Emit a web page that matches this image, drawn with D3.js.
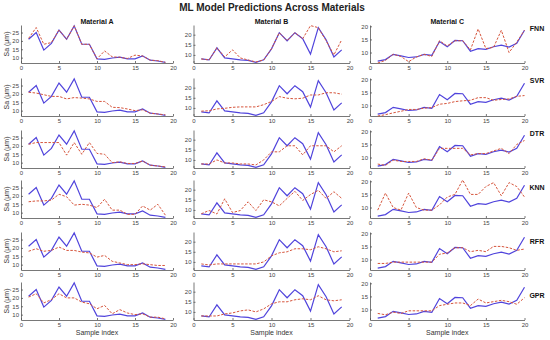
<!DOCTYPE html>
<html>
<head>
<meta charset="utf-8">
<script src="https://cdn.jsdelivr.net/npm/d3@7"></script>
<style>
  body { margin: 0; background: #fff; }
  svg { display: block; font-family: "Liberation Sans", Arial, sans-serif; }
</style>
</head>
<body>
<svg id="chart" width="550" height="340"></svg>
<script>
const materials = ['Material A', 'Material B', 'Material C']
const models = ['FNN', 'SVR', 'DTR', 'KNN', 'RFR', 'GPR']
const xTicks = [0, 5, 10, 15, 20]
const yTicksA = [10, 15, 20, 25]
const yTicksB = [10, 15, 20]
const yTicksC = [10, 15, 20]

// measured Sa values (true)
const trueA = [21, 25, 14.5, 18.5, 26.5, 21, 29, 18, 18, 9.3, 9, 9.8, 10.3, 9.3, 9.3, 11, 8.5, 8, 7.2]
const trueB = [8, 7.5, 13.5, 8.5, 8, 7.5, 7.3, 6.3, 7.6, 13, 21, 17, 21, 18, 10.4, 23.5, 17.5, 9, 12.5]
const trueC = [6.7, 7.3, 9.3, 8.7, 8.1, 8.3, 9.3, 8.9, 14.2, 12.2, 14.6, 14.5, 10.5, 11.5, 11.2, 12.2, 12.8, 12.1, 13.5, 18.5]

// model predictions
const fnnA = [21.5, 28, 18, 19, 26.5, 21, 29, 18, 18, 9.3, 14, 10.5, 10.2, 9.5, 11.5, 11, 8.5, 8.2, 7.2]
const svrA = [21, 20.5, 19.5, 18.5, 18.5, 17, 17.8, 17.5, 17, 15.5, 15.5, 12, 11.8, 11, 10, 10.5, 8.5, 8, 7.5]
const dtrA = [21, 22, 22, 22, 22, 14.5, 22, 15, 22, 15.5, 15, 10, 10.5, 9.5, 9.5, 11, 8.5, 8, 7.5]
const knnA = [16.5, 17, 17, 17.5, 21, 19.5, 14.5, 15, 14.5, 13, 18, 11.5, 11.5, 9, 9, 14, 11.5, 15, 8.5]
const rfrA = [18, 19.5, 18, 18.5, 20.5, 18.5, 18.5, 17.5, 17, 14.5, 15.5, 12, 11, 10, 10, 10.5, 10, 9.5, 9.5]
const gprA = [20.5, 22.5, 17, 19, 22.5, 20, 20, 17.5, 16.5, 13.5, 15.5, 10.5, 13, 11, 10, 10.5, 8.5, 8.5, 7.5]

const fnnB = [8, 7.5, 13.5, 9, 12.5, 8.5, 7.5, 6.5, 7.5, 13, 21, 17, 21, 18, 24.5, 23.5, 17, 10, 17.5]
const svrB = [8.4, 8.6, 9.5, 9.8, 10.3, 10.5, 10.5, 10.5, 11.6, 13.2, 15.6, 14.8, 14.5, 14.8, 16.4, 16.4, 17.5, 17.5, 16.8]
const dtrB = [8, 8, 10, 8.5, 8.5, 8, 8, 7.5, 10, 14, 14, 17, 17, 12.5, 17, 17, 17, 14, 17]
const knnB = [8.1, 9.7, 8, 15.5, 8.7, 9.7, 14, 9.7, 15, 14, 12, 15.7, 19.2, 14.7, 17.6, 19.7, 15.7, 19, 15.7]
const rfrB = [9, 8.5, 9, 9, 9, 9, 9, 9, 10, 13, 14.5, 15, 16.5, 16.5, 16, 17.5, 16.5, 15, 15.5]
const gprB = [8, 8, 8, 9, 9.5, 10.5, 11, 10, 11.5, 14, 15, 15, 16, 16.5, 16, 18, 16, 15.5, 16]

const fnnC = [6, 7, 9.3, 8.5, 6.5, 8.3, 9.3, 8.5, 14.5, 12.5, 14.5, 14.5, 11, 19, 11.5, 12, 18.5, 10, 14, 18.5]
const svrC = [6, 6.5, 7.2, 7.8, 8.5, 8.5, 9, 9.2, 10.5, 10.8, 11.5, 11.8, 12, 13, 13, 12, 12.3, 12.5, 13.5, 13.8]
const dtrC = [7.5, 7, 9, 8.5, 8.5, 8.5, 9.5, 9, 13.5, 13.5, 13.5, 13.5, 11, 11.5, 11.5, 12.5, 13.5, 11.5, 15, 16.5]
const knnC = [9, 15.5, 10, 9, 15.5, 10, 9, 9, 11, 14, 15, 20.5, 15, 15, 18, 19.5, 14.5, 19.5, 18, 14]
const rfrC = [8.5, 8.5, 9, 9, 9, 9, 9, 9, 12, 12.5, 14.5, 14.5, 13, 13.5, 13, 15, 15, 14.5, 13.5, 14]
const gprC = [8.5, 8, 9, 8.5, 9.5, 9.5, 9.5, 9.5, 11.5, 12, 12.5, 12.5, 11.5, 14, 12.5, 13, 13.5, 13, 12, 14.5]

const columns = [
  { truth: trueA, preds: [fnnA, svrA, dtrA, knnA, rfrA, gprA], yDomain: [6.8, 29.5], yTicks: yTicksA, x0: 21, x1: 173 },
  { truth: trueB, preds: [fnnB, svrB, dtrB, knnB, rfrB, gprB], yDomain: [6, 24.8], yTicks: yTicksB, x0: 193.5, x1: 349.5 },
  { truth: trueC, preds: [fnnC, svrC, dtrC, knnC, rfrC, gprC], yDomain: [6, 20.5], yTicks: yTicksC, x0: 370, x1: 524.5 }
]

const rowBottoms = [63, 116, 168, 218, 270, 320]
const rowLabelY = [28, 80, 133, 187, 241, 295]
const plotH = 38

const blue = '#5044dc'
const red = '#d6553c'
const axisColor = '#555'

const svg = d3.select('#chart')

svg.append('text')
  .attr('x', 272).attr('y', 11)
  .attr('text-anchor', 'middle')
  .attr('font-size', 10).attr('font-weight', 'bold')
  .attr('fill', '#222')
  .text('ML Model Predictions Across Materials')

columns.forEach((col, c) => {
  const x = d3.scaleLinear().domain([0, 20]).range([col.x0, col.x1])

  svg.append('text')
    .attr('x', (col.x0 + col.x1) / 2).attr('y', 24)
    .attr('text-anchor', 'middle')
    .attr('font-size', 7).attr('font-weight', 'bold')
    .attr('fill', '#111')
    .text(materials[c])

  models.forEach((m, r) => {
    const bottom = rowBottoms[r]
    const y = d3.scaleLinear().domain(col.yDomain).range([bottom, bottom - plotH])
    const g = svg.append('g')

    const xAxis = g.append('g')
      .attr('transform', `translate(0,${bottom})`)
      .call(d3.axisBottom(x).tickValues(xTicks).tickSizeInner(-2).tickSizeOuter(0).tickPadding(3))
    const yAxis = g.append('g')
      .attr('transform', `translate(${col.x0},0)`)
      .call(d3.axisLeft(y).tickValues(col.yTicks).tickSizeInner(-2).tickSizeOuter(0).tickPadding(2))

    ;[xAxis, yAxis].forEach(a => {
      a.select('.domain').attr('stroke', axisColor).attr('stroke-width', 0.8)
      a.selectAll('.tick line').attr('stroke', axisColor).attr('stroke-width', 0.8)
      a.selectAll('.tick text').attr('fill', '#444').attr('font-size', 6)
        .attr('font-family', '"Liberation Sans", Arial, sans-serif')
    })

    const line = d3.line().x((d, i) => x(i + 1)).y(d => y(d))

    g.append('path')
      .datum(col.truth)
      .attr('d', line)
      .attr('fill', 'none')
      .attr('stroke', blue)
      .attr('stroke-width', 1.2)

    g.append('path')
      .datum(col.preds[r])
      .attr('d', line)
      .attr('fill', 'none')
      .attr('stroke', red)
      .attr('stroke-width', 1)
      .attr('stroke-dasharray', '2.5,1.5')

    if (c === 0) {
      svg.append('text')
        .attr('transform', `translate(9,${bottom - plotH / 2}) rotate(-90)`)
        .attr('text-anchor', 'middle')
        .attr('font-size', 7).attr('fill', '#333')
        .text('Sa (\u03bcm)')
    }
    if (c === 2) {
      svg.append('text')
        .attr('x', 537).attr('y', rowLabelY[r] + 3)
        .attr('text-anchor', 'middle')
        .attr('font-size', 7).attr('font-weight', 'bold')
        .attr('fill', '#111')
        .text(m)
    }
  })

  svg.append('text')
    .attr('x', (col.x0 + col.x1) / 2).attr('y', 335)
    .attr('text-anchor', 'middle')
    .attr('font-size', 7).attr('fill', '#333')
    .text('Sample index')
})
</script>
</body>
</html>
